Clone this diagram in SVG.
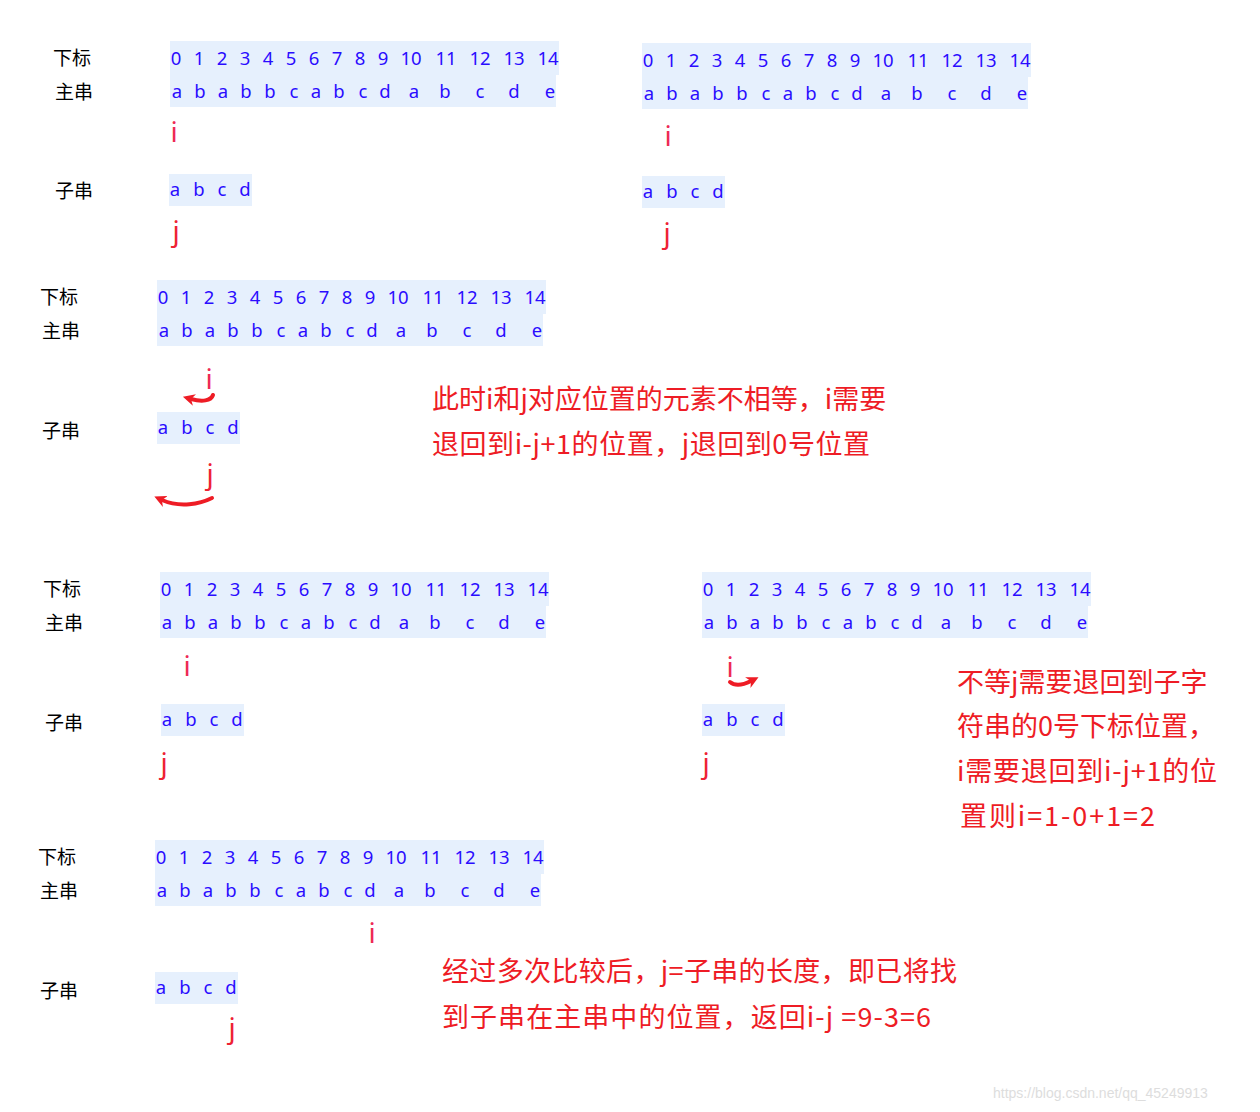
<svg xmlns="http://www.w3.org/2000/svg" xmlns:xlink="http://www.w3.org/1999/xlink" width="1260" height="1112" viewBox="0 0 1260 1112">
<style>
.hl{fill:#e6f0fd}
.bl{font-family:"Noto Sans","Open Sans",sans-serif;font-size:18.5px;fill:#2a0cff;text-anchor:middle}
.lb{font-family:"Noto Sans CJK SC","Noto Sans",sans-serif;font-size:19px;fill:#000}
.pi{font-family:"Noto Sans","Open Sans",sans-serif;font-size:28px;fill:#ee2a55;text-anchor:middle}
.pj{font-family:"Noto Sans","Open Sans",sans-serif;font-size:28px;fill:#ee2233;text-anchor:middle}
.note{font-family:"Noto Sans CJK SC","Noto Sans",sans-serif;font-size:27px;fill:#ee1c25}
.arr{fill:none;stroke:#ee1c25;stroke-width:4;stroke-linecap:round}
.wm{font-family:"Liberation Sans",Arial,sans-serif;font-size:14px;fill:#dddddd}
</style>
<defs>
<marker id="ah" viewBox="0 0 10 10" refX="3" refY="5" markerWidth="12" markerHeight="12" markerUnits="userSpaceOnUse" orient="auto">
<path d="M0,0 L10,5 L0,10 L3,5 z" fill="#ee1c25"/>
</marker>
<g id="mainRow">
<rect class="hl" x="0" y="0" width="389" height="34"/>
<rect class="hl" x="0" y="34" width="386" height="32"/>
<text class="bl" y="24"><tspan x="6">0</tspan><tspan x="29">1</tspan><tspan x="52">2</tspan><tspan x="75">3</tspan><tspan x="98">4</tspan><tspan x="121">5</tspan><tspan x="144">6</tspan><tspan x="167">7</tspan><tspan x="190">8</tspan><tspan x="213">9</tspan><tspan x="241">10</tspan><tspan x="276">11</tspan><tspan x="310">12</tspan><tspan x="344">13</tspan><tspan x="378">14</tspan></text>
<text class="bl" y="57"><tspan x="7">a</tspan><tspan x="30">b</tspan><tspan x="53">a</tspan><tspan x="76">b</tspan><tspan x="100">b</tspan><tspan x="124">c</tspan><tspan x="146">a</tspan><tspan x="169">b</tspan><tspan x="193">c</tspan><tspan x="215">d</tspan><tspan x="244">a</tspan><tspan x="275">b</tspan><tspan x="310">c</tspan><tspan x="344">d</tspan><tspan x="380">e</tspan></text>
</g>
<g id="subRow">
<rect class="hl" x="0" y="0" width="83" height="32"/>
<text class="bl" y="22"><tspan x="6">a</tspan><tspan x="30">b</tspan><tspan x="53">c</tspan><tspan x="76">d</tspan></text>
</g>
</defs>
<rect x="0" y="0" width="1260" height="1112" fill="#ffffff"/>

<g id="block1">
<text class="lb" x="53" y="65">下标</text>
<text class="lb" x="55" y="99">主串</text>
<text class="lb" x="55" y="198">子串</text>
<use xlink:href="#mainRow" href="#mainRow" x="170" y="41"/>
<use xlink:href="#subRow" href="#subRow" x="169" y="174"/>
<text class="pi" x="174" y="142">i</text>
<text class="pj" x="176" y="241">j</text>
</g>

<g id="block2">
<use xlink:href="#mainRow" href="#mainRow" x="642" y="43"/>
<use xlink:href="#subRow" href="#subRow" x="642" y="176"/>
<text class="pi" x="668" y="146">i</text>
<text class="pj" x="667" y="243">j</text>
</g>

<g id="block3">
<text class="lb" x="40" y="304">下标</text>
<text class="lb" x="42" y="338">主串</text>
<text class="lb" x="42" y="438">子串</text>
<use xlink:href="#mainRow" href="#mainRow" x="157" y="280"/>
<use xlink:href="#subRow" href="#subRow" x="157" y="412"/>
<text class="pi" x="209" y="389">i</text>
<text class="pj" x="210" y="484">j</text>
<text class="note" x="432" y="409">此时i和j对应位置的元素不相等，i需要</text>
<text class="note" x="432" y="454" textLength="438">退回到i-j+1的位置，j退回到0号位置</text>
</g>

<g id="block4">
<text class="lb" x="43" y="596">下标</text>
<text class="lb" x="45" y="630">主串</text>
<text class="lb" x="45" y="730">子串</text>
<use xlink:href="#mainRow" href="#mainRow" x="160" y="572"/>
<use xlink:href="#subRow" href="#subRow" x="161" y="704"/>
<text class="pi" x="187" y="676">i</text>
<text class="pj" x="164" y="773">j</text>
</g>

<g id="block5">
<use xlink:href="#mainRow" href="#mainRow" x="702" y="572"/>
<use xlink:href="#subRow" href="#subRow" x="702" y="704"/>
<text class="pi" x="730" y="677">i</text>
<text class="pj" x="706" y="773">j</text>
<text class="note" x="957" y="692">不等j需要退回到子字</text>
<text class="note" x="957" y="736">符串的0号下标位置，</text>
<text class="note" x="957" y="781" textLength="260">i需要退回到i-j+1的位</text>
<text class="note" x="960" y="826" textLength="195">置则i=1-0+1=2</text>
</g>

<g id="block6">
<text class="lb" x="38" y="864">下标</text>
<text class="lb" x="40" y="898">主串</text>
<text class="lb" x="40" y="998">子串</text>
<use xlink:href="#mainRow" href="#mainRow" x="155" y="840"/>
<use xlink:href="#subRow" href="#subRow" x="155" y="972"/>
<text class="pi" x="372" y="943">i</text>
<text class="pj" x="232" y="1038">j</text>
<text class="note" x="442" y="981" textLength="515">经过多次比较后，j=子串的长度，即已将找</text>
<text class="note" x="442" y="1027" textLength="489">到子串在主串中的位置，返回i-j =9-3=6</text>
</g>

<g id="connectors">
<path class="arr" d="M213,395 C211,401 202,402 191,399" marker-end="url(#ah)"/>
<path class="arr" d="M212,498 C200,504 180,508 162,500" marker-end="url(#ah)"/>
<path class="arr" d="M730,682 C736,687 745,684 751,681" marker-end="url(#ah)"/>
</g>

<text class="wm" x="993" y="1098">https://blog.csdn.net/qq_45249913</text>
</svg>
